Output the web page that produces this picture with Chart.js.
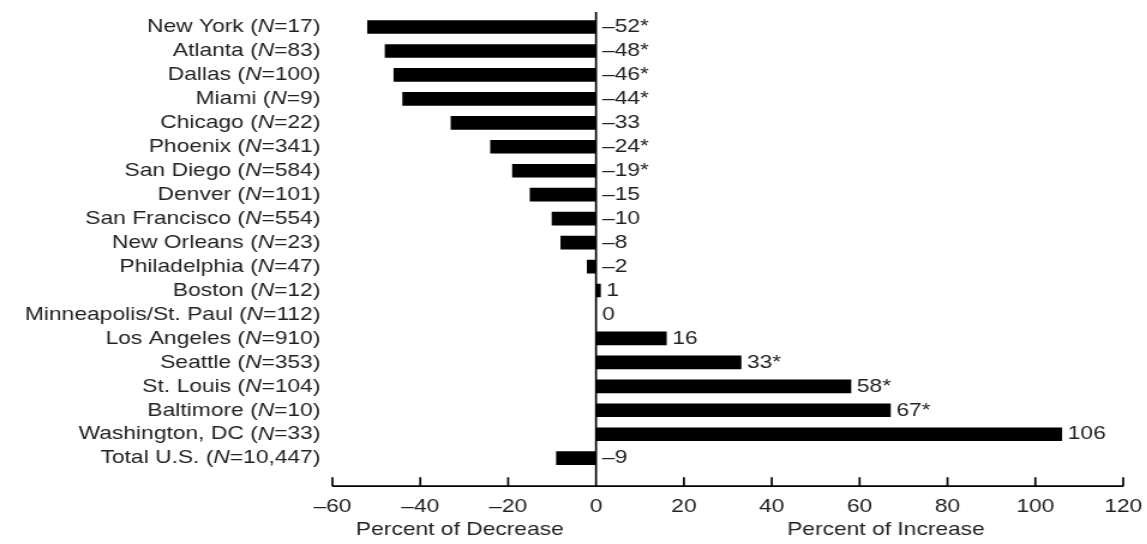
<!DOCTYPE html>
<html>
<head>
<meta charset="utf-8">
<script src="https://cdn.jsdelivr.net/npm/chart.js@4"></script>
<style>
  html, body { margin: 0; padding: 0; background: #fff; overflow: hidden; }
  /* the source figure is stretched sideways, so draw narrow and widen */
  #wrap { width: 956px; height: 544px; transform: scaleX(1.2); transform-origin: 0 0; }
</style>
</head>
<body>
<div id="wrap"><canvas id="cityChart" width="956" height="544"></canvas></div>
<script>
const cities = ['New York', 'Atlanta', 'Dallas', 'Miami', 'Chicago', 'Phoenix', 'San Diego', 'Denver',
    'San Francisco', 'New Orleans', 'Philadelphia', 'Boston', 'Minneapolis/St. Paul', 'Los Angeles',
    'Seattle', 'St. Louis', 'Baltimore', 'Washington, DC', 'Total U.S.'];
const counts = ['17', '83', '100', '9', '22', '341', '584', '101', '554', '23', '47', '12', '112', '910',
    '353', '104', '10', '33', '10,447'];
const changes = [-52, -48, -46, -44, -33, -24, -19, -15, -10, -8, -2, 1, 0, 16, 33, 58, 67, 106, -9];
const significant = [true, true, true, true, false, true, true, false, false, false, false, false, false,
    false, true, true, true, false, false];
const xTicks = [-60, -40, -20, 0, 20, 40, 60, 80, 100, 120];
const titleDecrease = 'Percent of Decrease';
const titleIncrease = 'Percent of Increase';

const FONT = '"Liberation Sans", Arial, sans-serif';
const INK = '#222';
const dash = v => (v < 0 ? '\u2013' + Math.abs(v) : String(v));

const extras = {
    id: 'extras',
    afterDatasetsDraw(chart) {
        const { ctx, chartArea, scales: { x, y } } = chart;
        ctx.save();
        ctx.strokeStyle = '#000';
        ctx.lineWidth = 1.7;
        ctx.beginPath();
        // zero line
        const x0 = x.getPixelForValue(0);
        ctx.moveTo(x0, chartArea.top);
        ctx.lineTo(x0, chartArea.bottom);
        // bottom axis + inner ticks
        ctx.moveTo(chartArea.left, chartArea.bottom);
        ctx.lineTo(chartArea.right, chartArea.bottom);
        xTicks.forEach(t => {
            const px = x.getPixelForValue(t);
            ctx.moveTo(px, chartArea.bottom - 9);
            ctx.lineTo(px, chartArea.bottom);
        });
        ctx.stroke();

        ctx.fillStyle = INK;
        ctx.textBaseline = 'middle';
        const regular = '19px ' + FONT;
        const italic = 'italic 19px ' + FONT;

        // category labels with italic N
        cities.forEach((c, i) => {
            const py = y.getPixelForValue(i);
            const parts = [[c + ' (', regular], ['N', italic], ['=' + counts[i] + ')', regular]];
            let w = 0;
            parts.forEach(p => { ctx.font = p[1]; w += ctx.measureText(p[0]).width; });
            let px = chartArea.left - 10 - w;
            ctx.textAlign = 'left';
            parts.forEach(p => {
                ctx.font = p[1];
                ctx.fillText(p[0], px, py);
                px += ctx.measureText(p[0]).width;
            });
        });

        // value labels
        ctx.font = regular;
        ctx.textAlign = 'left';
        changes.forEach((v, i) => {
            const px = x.getPixelForValue(Math.max(v, 0)) + 5;
            ctx.fillText(dash(v) + (significant[i] ? '*' : ''), px, y.getPixelForValue(i));
        });

        // axis titles
        ctx.textAlign = 'center';
        ctx.fillText(titleDecrease, x.getPixelForValue(-31), 530);
        ctx.fillText(titleIncrease, x.getPixelForValue(66), 530);
        ctx.restore();
    }
};

new Chart(document.getElementById('cityChart'), {
    type: 'bar',
    data: {
        datasets: [{
            data: changes.map((v, i) => ({ x: v, y: i })),
            backgroundColor: '#000',
            borderWidth: 0,
            barThickness: 13
        }]
    },
    options: {
        indexAxis: 'y',
        responsive: false,
        animation: false,
        layout: { padding: { left: 277, right: 20, top: 12, bottom: 17 } },
        plugins: { legend: { display: false }, tooltip: { enabled: false } },
        scales: {
            x: {
                type: 'linear',
                min: -60,
                max: 120,
                afterBuildTicks: axis => { axis.ticks = xTicks.map(v => ({ value: v })); },
                afterFit: axis => { axis.paddingLeft = 0; axis.paddingRight = 0; },
                grid: { display: false, drawTicks: false },
                border: { display: false },
                ticks: {
                    padding: 9,
                    color: INK,
                    font: { family: FONT, size: 19 },
                    maxRotation: 0,
                    callback: v => dash(v)
                }
            },
            y: {
                type: 'linear',
                display: false,
                offset: false,
                reverse: true,
                min: -0.627,
                max: 19.17
            }
        }
    },
    plugins: [extras]
});
</script>
</body>
</html>
